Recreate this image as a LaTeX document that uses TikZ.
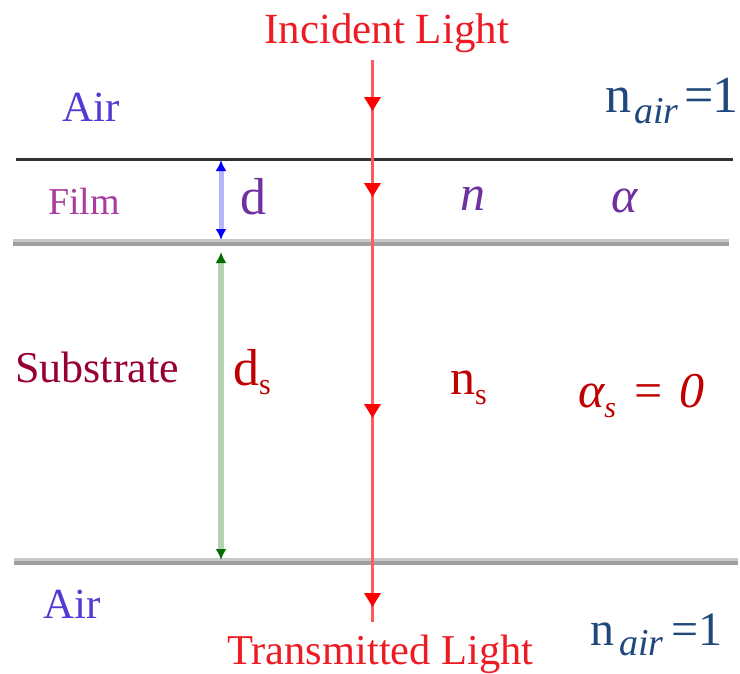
\documentclass[tikz,border=0pt]{standalone}
\usepackage{fontspec}
\setmainfont{Liberation Serif}
\usetikzlibrary{arrows.meta,decorations.markings}
\definecolor{incred}{RGB}{237,28,36}
\definecolor{rayred}{RGB}{255,90,90}
\definecolor{tipred}{RGB}{255,0,0}
\definecolor{airblue}{RGB}{80,60,210}
\definecolor{nairblue}{RGB}{31,73,125}
\definecolor{filmpink}{RGB}{170,60,160}
\definecolor{filmpurple}{RGB}{112,48,160}
\definecolor{subred}{RGB}{150,0,50}
\definecolor{symred}{RGB}{192,0,0}
\definecolor{topline}{RGB}{51,51,51}
\definecolor{glight}{RGB}{200,200,200}
\definecolor{gdark}{RGB}{160,160,160}
\definecolor{dimblue}{RGB}{180,180,255}
\definecolor{dimgreen}{RGB}{180,210,180}
\definecolor{tipgreen}{RGB}{0,110,0}
\begin{document}
\begin{tikzpicture}[x=1pt,y=-1pt,
  lbl/.style={inner sep=0pt, anchor=base west},
  ray/.style={draw=rayred, line width=3.5pt,
    postaction={decorate},
    decoration={markings,
      mark=at position 51pt with {\arrow{Triangle[width=16pt,length=14pt,color=tipred]}},
      mark=at position 137pt with {\arrow{Triangle[width=16pt,length=14pt,color=tipred]}},
      mark=at position 358pt with {\arrow{Triangle[width=16pt,length=14pt,color=tipred]}},
      mark=at position 547pt with {\arrow{Triangle[width=16pt,length=14pt,color=tipred]}}}},
  dimline/.style={line width=5pt}
]
\useasboundingbox (0,0) rectangle (740,673);

% interfaces
\draw[topline, line width=3pt] (16,159) -- (733,159);
\draw[glight, line width=3pt] (13,240.5) -- (729,240.5);
\draw[gdark, line width=4pt] (13,244) -- (729,244);
\draw[glight, line width=3pt] (14,559.5) -- (738,559.5);
\draw[gdark, line width=4pt] (14,563) -- (738,563);

% thickness markers
\coordinate (ftop) at (221,160);
\coordinate (fbot) at (221,240);
\coordinate (stop) at (221,252);
\coordinate (sbot) at (221,560);
\draw[dimline, dimblue, {Latex[width=11pt,length=11pt,color=blue]}-{Latex[width=11pt,length=11pt,color=blue]}] (ftop) -- (fbot);
\draw[dimline, dimgreen, line width=6pt, {Latex[width=11pt,length=11pt,color=tipgreen]}-{Latex[width=11pt,length=11pt,color=tipgreen]}] (stop) -- (sbot);

% light ray
\coordinate (rt) at (372.5,60);
\coordinate (rb) at (372.5,622);
\draw[ray] (rt) -- (rb);

% labels
\node[lbl, text=incred, font=\fontsize{43}{50}\selectfont] (inc) at (264,43) {Incident Light};
\node[lbl, text=incred, font=\fontsize{42.5}{50}\selectfont] (trans) at (227,664) {Transmitted Light};
\node[lbl, text=airblue, font=\fontsize{43}{50}\selectfont] (airtop) at (62,121) {Air};
\node[lbl, text=airblue, font=\fontsize{43}{50}\selectfont] (airbot) at (43,618) {Air};
\node[lbl, text=filmpink, font=\fontsize{38}{44}\selectfont] (film) at (48,214) {Film};
\node[lbl, text=subred, font=\fontsize{44}{50}\selectfont] (sub) at (15,382) {Substrate};
\node[lbl, text=filmpurple, font=\fontsize{52}{56}\selectfont] (dfilm) at (240,214) {d};
\node[lbl, text=symred, font=\fontsize{52}{56}\selectfont] (dsub) at (233,385) {d\raisebox{-9pt}{\fontsize{30}{30}\selectfont s}};
\node[lbl, text=filmpurple, font=\fontsize{50}{56}\selectfont\itshape] (nfilm) at (460,210) {n};
\node[lbl, text=filmpurple, font=\fontsize{50}{56}\selectfont\itshape] (afilm) at (611,212) {α};
\node[lbl, text=symred, font=\fontsize{50}{56}\selectfont] (nsub) at (450,394) {n\raisebox{-10pt}{\fontsize{30}{30}\selectfont s}};
\node[lbl, text=symred, font=\fontsize{50}{56}\selectfont] (asub) at (578,407) {\itshape α\raisebox{-10pt}{\fontsize{30}{30}\selectfont s}\kern 18pt{\upshape =}\kern 17pt 0};
\node[lbl, text=nairblue, font=\fontsize{52}{56}\selectfont] (nairtop) at (605,112) {n\kern 3pt\raisebox{-11pt}{\fontsize{38}{38}\selectfont\itshape air}\kern 6pt=\kern -1pt 1};
\node[lbl, text=nairblue, font=\fontsize{48}{52}\selectfont] (nairbot) at (590,645) {n\kern 5pt\raisebox{-10pt}{\fontsize{38}{38}\selectfont\itshape air}\kern 8pt=1};
\end{tikzpicture}
\end{document}
